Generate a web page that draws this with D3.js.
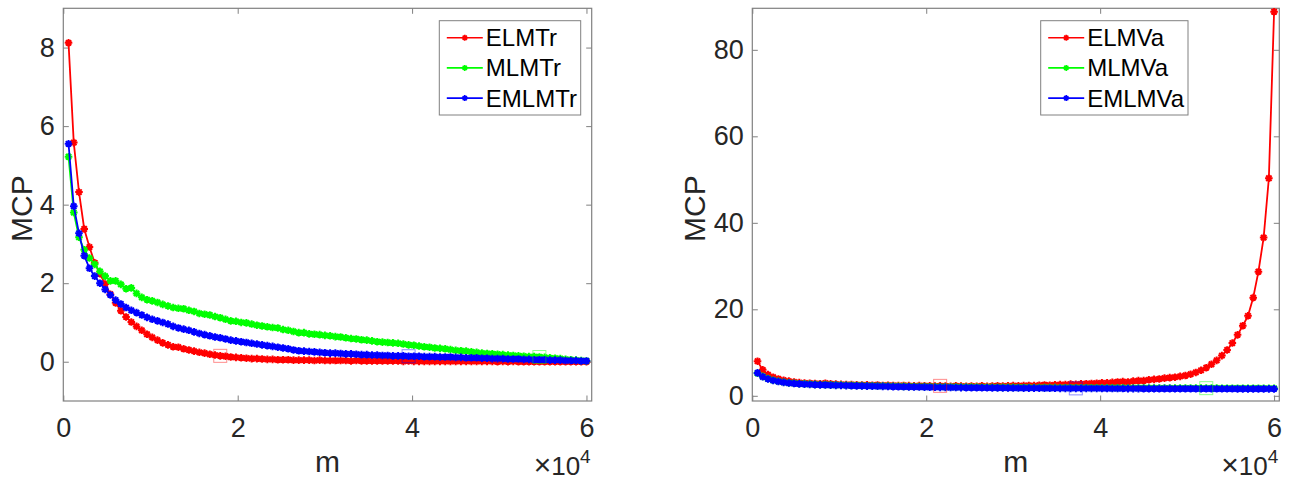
<!DOCTYPE html>
<html><head><meta charset="utf-8">
<script src="https://cdn.jsdelivr.net/npm/d3@7"></script>
<style>
body{margin:0;background:#fff;}
svg{display:block;font-family:"Liberation Sans",Arial,Helvetica,sans-serif;}
</style></head>
<body><svg id="chart" width="1289" height="483"></svg>
<script>
// ---------- data ----------
const mValues = d3.range(1, 101).map(i => i * 600);   // m = 600 ... 60000
const xTicks = [0, 20000, 40000, 60000];
const leftYTicks = [0, 2, 4, 6, 8];
const rightYTicks = [0, 20, 40, 60, 80];
const leftNames = ["ELMTr", "MLMTr", "EMLMTr"];
const rightNames = ["ELMVa", "MLMVa", "EMLMVa"];
const seriesColors = ["#ff0000", "#00ff00", "#0000ff"];

const elmTr = [8.12,5.58,4.32,3.38,2.92,2.52,2.24,1.98,1.72,1.50,
  1.30,1.14,1.01,0.90,0.80,0.70,0.62,0.55,0.48,0.43,
  0.38,0.37,0.33,0.30,0.27,0.24,0.22,0.19,0.17,0.15,
  0.14,0.12,0.11,0.10,0.09,0.08,0.08,0.07,0.06,0.06,
  0.05,0.05,0.05,0.04,0.04,0.04,0.04,0.03,0.04,0.03,
  0.03,0.03,0.03,0.03,0.02,0.03,0.02,0.02,0.02,0.02,
  0.02,0.02,0.02,0.02,0.01,0.02,0.01,0.01,0.01,0.01,
  0.01,0.01,0.01,0.01,0.01,0.01,0.01,0.01,0.01,0.01,
  0.01,0.01,0.00,0.01,0.00,0.01,0.00,0.00,0.00,0.00,
  0.00,0.00,0.00,0.00,0.00,0.00,0.00,0.00,0.00,0.00];
const mlmTr = [5.22,3.80,3.17,2.85,2.64,2.48,2.30,2.18,2.06,2.06,
  1.97,1.86,1.88,1.74,1.64,1.58,1.55,1.51,1.46,1.42,
  1.38,1.36,1.35,1.31,1.28,1.23,1.21,1.19,1.15,1.12,
  1.08,1.04,1.03,1.00,0.99,0.96,0.93,0.91,0.89,0.87,
  0.86,0.82,0.80,0.77,0.74,0.74,0.71,0.70,0.69,0.67,
  0.66,0.64,0.63,0.61,0.59,0.58,0.56,0.55,0.53,0.51,
  0.50,0.49,0.48,0.47,0.45,0.43,0.42,0.40,0.38,0.37,
  0.35,0.34,0.33,0.31,0.29,0.28,0.27,0.25,0.24,0.22,
  0.21,0.20,0.19,0.18,0.17,0.16,0.15,0.14,0.13,0.13,
  0.12,0.11,0.10,0.09,0.08,0.06,0.05,0.04,0.03,0.02];
const emlmTr = [5.55,3.96,3.27,2.70,2.38,2.18,2.00,1.84,1.70,1.57,
  1.47,1.38,1.31,1.25,1.19,1.13,1.08,1.04,1.00,0.96,
  0.90,0.86,0.83,0.80,0.76,0.72,0.69,0.66,0.63,0.61,
  0.58,0.55,0.53,0.51,0.49,0.47,0.45,0.43,0.41,0.39,
  0.37,0.35,0.33,0.30,0.28,0.27,0.26,0.25,0.24,0.23,
  0.22,0.22,0.21,0.20,0.20,0.19,0.18,0.18,0.17,0.17,
  0.16,0.16,0.15,0.15,0.15,0.14,0.14,0.14,0.13,0.13,
  0.13,0.12,0.12,0.12,0.11,0.11,0.10,0.10,0.10,0.09,
  0.09,0.08,0.08,0.08,0.07,0.07,0.07,0.06,0.06,0.05,
  0.05,0.05,0.04,0.04,0.04,0.03,0.03,0.03,0.02,0.02];

const elmVa = [8.0,6.0,4.9,4.3,3.9,3.6,3.4,3.2,3.05,2.95,
  2.9,2.85,2.8,2.9,2.75,2.7,2.65,2.6,2.6,2.55,
  2.5,2.55,2.45,2.5,2.4,2.45,2.4,2.35,2.4,2.35,
  2.3,2.35,2.3,2.3,2.25,2.3,2.25,2.2,2.3,2.25,
  2.2,2.25,2.2,2.3,2.2,2.25,2.3,2.25,2.3,2.35,
  2.3,2.35,2.4,2.35,2.45,2.5,2.45,2.55,2.6,2.6,
  2.7,2.65,2.75,2.8,2.85,2.9,3.0,3.0,3.1,3.2,
  3.3,3.2,3.4,3.5,3.5,3.7,3.8,3.9,4.1,4.2,
  4.3,4.5,4.7,5.0,5.4,5.9,6.5,7.3,8.2,9.3,
  10.6,12.2,14.1,16.2,18.5,22.7,28.7,36.6,50.3,88.8];
const mlmVa = [5.2,4.5,4.0,3.6,3.35,3.15,3.0,2.9,2.8,2.75,
  2.7,2.65,2.6,2.58,2.52,2.5,2.47,2.43,2.42,2.38,
  2.36,2.33,2.31,2.28,2.27,2.24,2.22,2.2,2.19,2.17,
  2.15,2.14,2.12,2.1,2.1,2.08,2.06,2.05,2.04,2.03,
  2.02,2.01,2.0,1.99,1.98,1.97,1.96,1.96,1.95,1.94,
  1.93,1.93,1.92,1.91,1.91,1.9,1.9,1.89,1.88,1.88,
  1.87,1.87,1.86,1.86,1.85,1.85,1.84,1.84,1.84,1.83,
  1.83,1.82,1.82,1.82,1.81,1.81,1.81,1.8,1.8,1.8,
  1.79,1.79,1.79,1.78,1.78,1.78,1.77,1.77,1.77,1.76,
  1.76,1.76,1.76,1.75,1.75,1.75,1.75,1.74,1.74,1.74];
const emlmVa = [5.3,4.4,3.9,3.55,3.3,3.1,2.95,2.85,2.75,2.68,
  2.62,2.58,2.52,2.5,2.45,2.42,2.4,2.36,2.34,2.3,
  2.28,2.25,2.22,2.2,2.18,2.15,2.12,2.1,2.08,2.06,
  2.04,2.02,2.0,1.98,1.97,1.95,1.94,1.92,1.91,1.9,
  1.89,1.88,1.87,1.86,1.85,1.84,1.83,1.82,1.81,1.8,
  1.79,1.78,1.78,1.77,1.76,1.75,1.75,1.74,1.73,1.73,
  1.72,1.72,1.71,1.71,1.7,1.7,1.69,1.69,1.68,1.68,
  1.68,1.67,1.67,1.67,1.66,1.66,1.66,1.65,1.65,1.65,
  1.64,1.64,1.64,1.64,1.63,1.63,1.63,1.63,1.62,1.62,
  1.62,1.62,1.61,1.61,1.61,1.61,1.6,1.6,1.6,1.6];

// m positions of the faint square highlights (one per series)
const leftSquareM = [18000, 54600, 39600];
const rightSquareM = [21600, 52200, 37200];

// ---------- drawing ----------
const svg = d3.select("#chart");
const axisColor = "#808080", textColor = "#262626";

function starPath(r) {
  const d = r * 0.7071;
  return `M${-r},0L${r},0M0,${-r}L0,${r}M${-d},${-d}L${d},${d}M${-d},${d}L${d},${-d}`;
}

function panel(cfg) {
  const g = svg.append("g");
  const x = d3.scaleLinear().domain([0, 60600]).range([cfg.x0, cfg.x1]);
  const y = d3.scaleLinear().domain(cfg.yDomain).range([cfg.y1, cfg.y0]);
  const tick = 5.5;

  const xb = g.append("g").attr("transform", `translate(0,${cfg.y1})`)
    .call(d3.axisBottom(x).tickValues(xTicks).tickFormat(d => d / 1e4)
      .tickSizeInner(-tick).tickSizeOuter(0).tickPadding(16.5));
  const xt = g.append("g").attr("transform", `translate(0,${cfg.y0})`)
    .call(d3.axisTop(x).tickValues(xTicks).tickFormat("")
      .tickSizeInner(-tick).tickSizeOuter(0));
  const yl = g.append("g").attr("transform", `translate(${cfg.x0},0)`)
    .call(d3.axisLeft(y).tickValues(cfg.yTicks)
      .tickSizeInner(-tick).tickSizeOuter(0).tickPadding(8.5));
  const yr = g.append("g").attr("transform", `translate(${cfg.x1},0)`)
    .call(d3.axisRight(y).tickValues(cfg.yTicks).tickFormat("")
      .tickSizeInner(-tick).tickSizeOuter(0));
  [xb, xt, yl, yr].forEach(a => {
    a.select(".domain").remove();
    a.selectAll("line").attr("stroke", axisColor);
    a.selectAll("text").attr("fill", textColor).style("font-size", "27px")
      .style("font-family", '"Liberation Sans",Arial,sans-serif');
  });

  g.append("rect").attr("x", cfg.x0).attr("y", cfg.y0)
    .attr("width", cfg.x1 - cfg.x0).attr("height", cfg.y1 - cfg.y0)
    .attr("fill", "none").attr("stroke", axisColor).attr("stroke-width", 1.2);

  const clip = "clip" + cfg.id;
  g.append("clipPath").attr("id", clip).append("rect")
    .attr("x", cfg.x0 - 6).attr("y", cfg.y0 - 6)
    .attr("width", cfg.x1 - cfg.x0 + 12).attr("height", cfg.y1 - cfg.y0 + 12);
  const plot = g.append("g").attr("clip-path", `url(#${clip})`);
  const line = d3.line().x((d, i) => x(mValues[i])).y(d => y(d));
  cfg.series.forEach((vals, k) => {
    plot.append("path").attr("d", line(vals)).attr("fill", "none")
      .attr("stroke", seriesColors[k]).attr("stroke-width", 1.8);
    plot.append("g").selectAll("path").data(vals).join("path")
      .attr("transform", (d, i) => `translate(${x(mValues[i])},${y(d)})`)
      .attr("d", starPath(3.8)).attr("stroke", seriesColors[k])
      .attr("stroke-width", 2).attr("fill", "none");
  });
  cfg.squares.forEach((m, k) => {
    const i = mValues.indexOf(m);
    plot.append("rect").attr("x", x(m) - 6.5).attr("y", y(cfg.series[k][i]) - 6.5)
      .attr("width", 13).attr("height", 13).attr("fill", "none")
      .attr("stroke", seriesColors[k]).attr("stroke-opacity", 0.45).attr("stroke-width", 1);
  });

  g.append("text").attr("x", (cfg.x0 + cfg.x1) / 2).attr("y", 471.5)
    .attr("text-anchor", "middle").attr("fill", textColor)
    .style("font-size", "30px").text("m");
  g.append("text").attr("transform", `translate(${cfg.x0 - cfg.labelOff},${(cfg.y0 + cfg.y1) / 2 + 4}) rotate(-90)`)
    .attr("text-anchor", "middle").attr("fill", textColor)
    .style("font-size", "30px").text("MCP");
  const ex = g.append("text").attr("x", cfg.x1 - 1).attr("y", 475)
    .attr("text-anchor", "end").attr("fill", textColor).style("font-size", "26px");
  ex.append("tspan").style("font-size", "30px").text("\u00d7");
  ex.append("tspan").text("10");
  ex.append("tspan").attr("dy", -12).style("font-size", "19px").text("4");

  const L = cfg.legend;
  const lg = g.append("g");
  lg.append("rect").attr("x", L.x).attr("y", L.y).attr("width", L.w).attr("height", L.h)
    .attr("fill", "#fff").attr("stroke", axisColor).attr("stroke-width", 1);
  cfg.names.forEach((n, k) => {
    const yy = L.y + 17 + k * 30.2;
    lg.append("line").attr("x1", L.x + 7.5).attr("x2", L.x + 43.5)
      .attr("y1", yy).attr("y2", yy).attr("stroke", seriesColors[k]).attr("stroke-width", 1.6);
    lg.append("path").attr("transform", `translate(${L.x + 25.5},${yy})`)
      .attr("d", starPath(3)).attr("stroke", seriesColors[k]).attr("stroke-width", 1.6);
    lg.append("text").attr("x", L.x + 46.5).attr("y", yy + 8.5).attr("fill", "#000")
      .style("font-size", "24px").text(n);
  });
}

panel({id: "L", x0: 63.3, x1: 591.7, y0: 8.3, y1: 401, yDomain: [-1, 9], yTicks: leftYTicks,
  series: [elmTr, mlmTr, emlmTr], names: leftNames, squares: leftSquareM, labelOff: 31,
  legend: {x: 439.3, y: 20.7, w: 141.4, h: 94.3}});
panel({id: "R", x0: 752.3, x1: 1279.3, y0: 8.3, y1: 401, yDomain: [-1.2, 89.6], yTicks: rightYTicks,
  series: [elmVa, mlmVa, emlmVa], names: rightNames, squares: rightSquareM, labelOff: 47,
  legend: {x: 1040.7, y: 20.7, w: 147.3, h: 94.3}});
</script></body></html>
